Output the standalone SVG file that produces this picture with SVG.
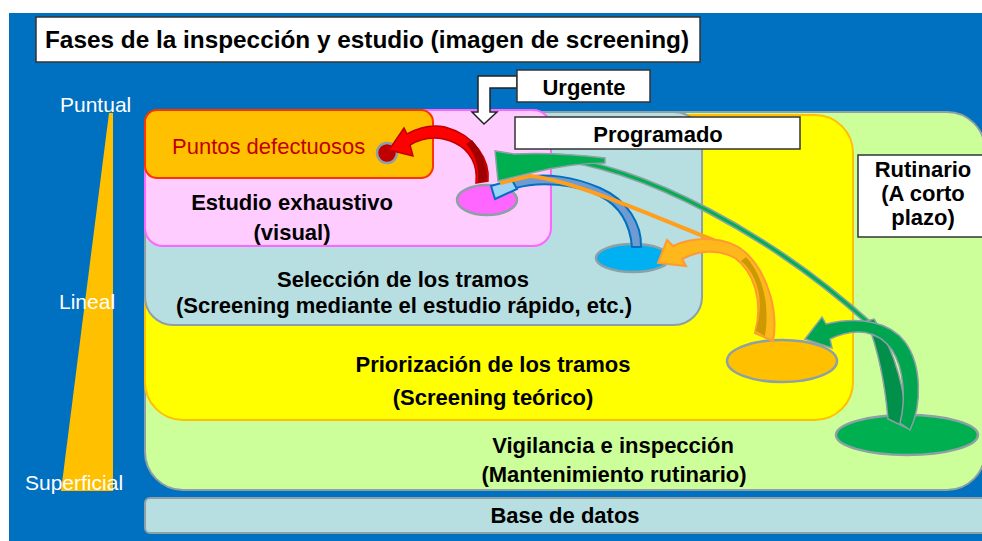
<svg xmlns="http://www.w3.org/2000/svg" width="982" height="541" viewBox="0 0 982 541">
<style>
  text { font-family: "Liberation Sans", Arial, sans-serif; }
  .lbl { font-size: 22px; font-weight: bold; fill: #000; text-anchor: middle; }
  .side { font-size: 21px; fill: #fff; }
  .box { fill: #fff; stroke: #333; stroke-width: 1.5; }
  .gray { stroke: #8CA0A6; stroke-width: 2; }
  .ell { stroke: #8CA0A6; stroke-width: 2.5; }
  .gline { fill: none; stroke: #8CA0A6; stroke-width: 6; }
  .gfill { fill: none; stroke: #00B050; stroke-width: 3; }
</style>
<rect x="0" y="0" width="982" height="541" fill="#fff"/>
<rect x="9" y="13" width="973" height="528" fill="#0070C0"/>

<g id="scale">
  <polygon points="109,113 113,113 113,491 61,491" fill="#FFC000"/>
  <text class="side" x="60" y="112">Puntual</text>
  <text class="side" x="59" y="309">Lineal</text>
  <text class="side" x="25" y="490">Superficial</text>
</g>

<g id="vigilancia">
  <rect x="145" y="112" width="840" height="378" rx="38" fill="#CCFF99" class="gray"/>
  <text class="lbl" x="613" y="453">Vigilancia e inspección</text>
  <text class="lbl" x="614" y="482">(Mantenimiento rutinario)</text>
</g>
<g id="priorizacion">
  <rect x="145" y="115" width="708" height="305" rx="38" fill="#FFFF00" stroke="#FFC000" stroke-width="2"/>
  <text class="lbl" x="493" y="372">Priorización de los tramos</text>
  <text class="lbl" x="493" y="405">(Screening teórico)</text>
</g>
<g id="seleccion">
  <rect x="145" y="112" width="557" height="213" rx="28" fill="#B7DEE0" class="gray"/>
  <text class="lbl" x="403" y="287">Selección de los tramos</text>
  <text class="lbl" x="404" y="313">(Screening mediante el estudio rápido, etc.)</text>
</g>
<g id="estudio">
  <rect x="145" y="110" width="406" height="136" rx="18" fill="#FFCCFF" stroke="#FF66FF" stroke-width="2"/>
  <text class="lbl" x="292" y="210">Estudio exhaustivo</text>
  <text class="lbl" x="292" y="240">(visual)</text>
</g>
<g id="puntos">
  <rect x="145" y="110" width="288" height="68" rx="12" fill="#FFC000" stroke="#FF3300" stroke-width="2"/>
  <text x="172" y="154" font-size="22" fill="#C00000">Puntos defectuosos</text>
</g>
<g id="base">
  <rect x="145" y="498" width="845" height="35" rx="5" fill="#B7DEE0" class="gray"/>
  <text class="lbl" x="565" y="523">Base de datos</text>
</g>

<g id="dot-red"><circle cx="387" cy="153" r="10" fill="#C00000" class="ell"/></g>
<g id="ell-pink"><ellipse cx="487" cy="200" rx="30" ry="15" fill="#FF66FF" class="ell"/></g>
<g id="ell-blue"><ellipse cx="633" cy="258" rx="37" ry="14" fill="#00B0F0" class="ell"/></g>
<g id="ell-orange"><ellipse cx="782" cy="361" rx="55" ry="21" fill="#FFC000" class="ell"/></g>
<g id="ell-green"><ellipse cx="907" cy="435" rx="71" ry="20" fill="#00B050" class="ell"/></g>

<g id="connectors">
  <!-- blue: blue ellipse -> pink ellipse -->
  <path d="M632,247 L641,247 C642,225 628,200 600,188 C575,177 545,172 520,178 L512,181 L516,188 C540,181 575,184 600,196 C620,206 630,225 632,247 Z" fill="#6F9BD3" stroke="#0070C0" stroke-width="2"/>
  <polygon points="491,186 495,199 517,189 512,180" fill="#9DD3F5" stroke="#0070C0" stroke-width="2"/>
  <!-- orange long: orange ellipse -> pink ellipse -->
  <path d="M762,335 C770,290 745,250 703,236 C640,210 570,180 530,176 L500,183" fill="none" stroke="#FF9F1C" stroke-width="4"/>
  <!-- green long: green ellipse -> pink ellipse -->
  <path d="M870,324 C775,238 645,165 545,157" class="gline"/>
  <path d="M870,324 C775,238 645,165 545,157" class="gfill"/>
  <path d="M867,321 C880,355 886,395 888,419 L907,428 C906,395 896,352 874,319 Z" fill="#00904A" stroke="#8CA0A6" stroke-width="1.5"/>
  <path d="M605,158 C580,155 550,152 514,154 L495,151 L498,181 L531,173 C555,167 580,163 605,163 Z" fill="#00B050" stroke="#8CA0A6" stroke-width="1.5"/>
  <!-- orange short: orange ellipse -> blue ellipse -->
  <path d="M755,333 L773,341 C778,315 770,275 745,252 C727,236 695,236 673,246 L667,240 L658,263 L686,266 L682,259 C697,251 717,248 735,258 C753,271 764,300 755,333 Z" fill="#FFB81C" stroke="#FF9933" stroke-width="2"/>
  <path d="M756,331 C765,300 757,274 741,261 L746,257 C763,275 770,305 765,336 Z" fill="#CC9900"/>
  <!-- green short: green ellipse -> orange ellipse -->
  <path d="M900,423 L910,430 C922,405 922,365 905,342 C890,322 860,316 826,324 L822,317 L805,339 L832,348 L830,339 C855,327 878,330 892,350 C904,368 906,400 900,423 Z" fill="#00A54F" stroke="#8CA0A6" stroke-width="1.5"/>
  <!-- red: pink ellipse -> red dot -->
  <path d="M476,183 L488,181 C490,160 475,135 445,127 C430,124 418,128 407,134 L404,128 L389,150 L413,156 L410,145 C425,136 440,136 455,143 C470,150 478,165 476,183 Z" fill="#FF0000" stroke="#C00000" stroke-width="1.5"/>
  <path d="M478,182 C479,165 474,152 466,144 L472,140 C482,152 488,166 487,181 Z" fill="#A00000"/>
  <!-- urgente elbow arrow -->
  <polygon points="517,76 478,76 478,112 472,112 484,124 497,112 490,112 490,88 517,88" fill="#fff" stroke="#222" stroke-width="1.5"/>
</g>

<g id="title">
  <rect x="36" y="17" width="664" height="45" class="box"/>
  <text x="367" y="48" font-size="24" font-weight="bold" text-anchor="middle" textLength="644" lengthAdjust="spacingAndGlyphs">Fases de la inspección y estudio (imagen de screening)</text>
</g>
<g id="urgente">
  <rect x="517" y="70" width="133" height="32" class="box"/>
  <text class="lbl" x="584" y="95">Urgente</text>
</g>
<g id="programado">
  <rect x="515" y="117" width="285" height="32" class="box"/>
  <text class="lbl" x="658" y="142">Programado</text>
</g>
<g id="rutinario">
  <rect x="858" y="155" width="130" height="82" class="box"/>
  <text class="lbl" x="923" y="177">Rutinario</text>
  <text class="lbl" x="923" y="201">(A corto</text>
  <text class="lbl" x="923" y="225">plazo)</text>
</g>
</svg>
